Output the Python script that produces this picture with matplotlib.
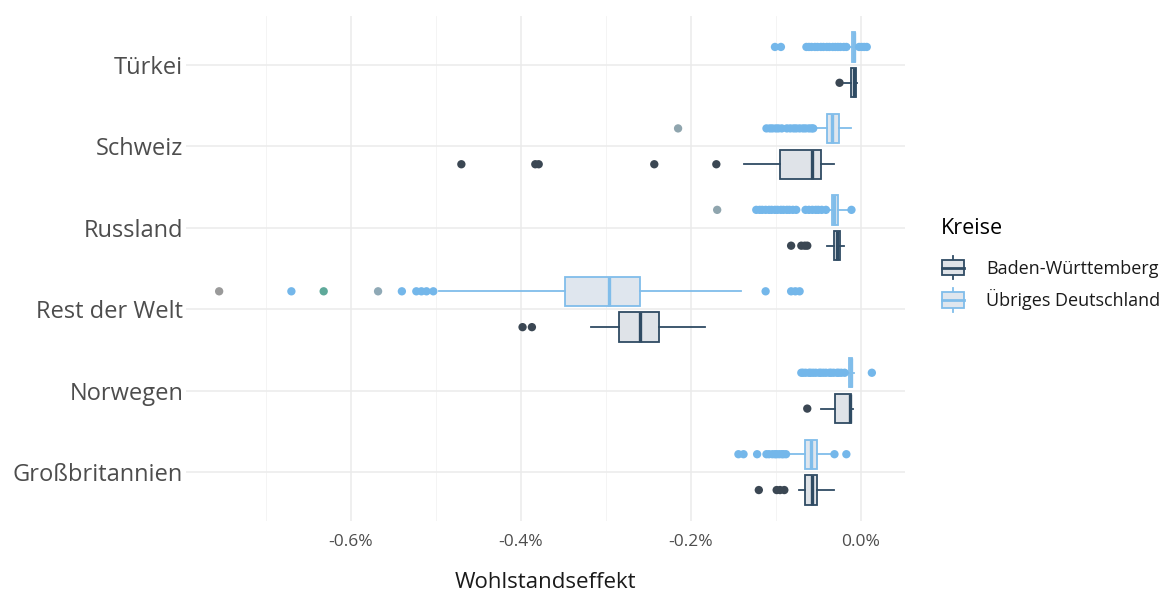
import matplotlib
matplotlib.use("Agg")
import matplotlib.pyplot as plt
from matplotlib.patches import Rectangle
from matplotlib.lines import Line2D
from matplotlib.legend_handler import HandlerBase
from matplotlib.ticker import FuncFormatter, MultipleLocator

plt.rcParams['font.family'] = ['Open Sans', 'DejaVu Sans']

# ---------------- data (values in percent) ----------------
countries = ["Großbritannien", "Norwegen", "Rest der Welt", "Russland", "Schweiz", "Türkei"]
groups = ["Baden-Württemberg", "Übriges Deutschland"]

# Baden-Württemberg
bw_whislo = [-0.073, -0.047, -0.318, -0.040, -0.137, -0.020]
bw_q1     = [-0.066, -0.030, -0.284, -0.032, -0.095, -0.012]
bw_med    = [-0.058, -0.013, -0.260, -0.028, -0.057, -0.008]
bw_q3     = [-0.052, -0.011, -0.237, -0.025, -0.047, -0.006]
bw_whishi = [-0.032, -0.009, -0.183, -0.020, -0.032, -0.005]
bw_out = [
    [-0.120, -0.099, -0.095, -0.090],
    [-0.063],
    [-0.398, -0.387],
    [-0.082, -0.070, -0.066, -0.063],
    [-0.470, -0.383, -0.379, -0.243, -0.170],
    [-0.025],
]

# Übriges Deutschland
ud_whislo = [-0.085, -0.017, -0.496, -0.040, -0.053, -0.014]
ud_q1     = [-0.066, -0.014, -0.348, -0.034, -0.040, -0.010]
ud_med    = [-0.059, -0.012, -0.296, -0.031, -0.034, -0.008]
ud_q3     = [-0.052, -0.010, -0.260, -0.027, -0.026, -0.0065]
ud_whishi = [-0.034, -0.008, -0.141, -0.014, -0.012, -0.004]
ud_out = [
    [-0.144, -0.138, -0.122, -0.111, -0.108, -0.104, -0.101, -0.099, -0.096,
     -0.093, -0.091, -0.088, -0.031, -0.017],
    [-0.070, -0.068, -0.065, -0.061, -0.059, -0.056, -0.053, -0.049, -0.047,
     -0.044, -0.041, -0.037, -0.035, -0.032, -0.028, -0.026, -0.023, -0.019, 0.013],
    [-0.755, -0.670, -0.632, -0.568, -0.540, -0.523, -0.517, -0.511, -0.503,
     -0.112, -0.082, -0.077, -0.072],
    [-0.169, -0.123, -0.119, -0.116, -0.112, -0.108, -0.105, -0.101, -0.098,
     -0.094, -0.091, -0.087, -0.084, -0.080, -0.076, -0.065, -0.061, -0.057,
     -0.053, -0.050, -0.046, -0.041, -0.011],
    [-0.215, -0.111, -0.107, -0.104, -0.100, -0.097, -0.093, -0.087, -0.083,
     -0.079, -0.076, -0.072, -0.068, -0.065, -0.061, -0.058, -0.056],
    [-0.101, -0.094, -0.064, -0.061, -0.058, -0.054, -0.051, -0.047, -0.044,
     -0.040, -0.037, -0.033, -0.030, -0.027, -0.024, -0.020, -0.017,
     -0.002, 0.001, 0.004, 0.007],
]

# a few outliers are drawn in a different tint in the reference
special_tint = {
    ("Übriges Deutschland", "Schweiz", -0.215): "#8fa5ae",
    ("Übriges Deutschland", "Russland", -0.169): "#8fa5ae",
    ("Übriges Deutschland", "Rest der Welt", -0.755): "#9a9a9a",
    ("Übriges Deutschland", "Rest der Welt", -0.632): "#5ea99a",
    ("Übriges Deutschland", "Rest der Welt", -0.568): "#8fa9b6",
}

# ---------------- style ----------------
col_line = {"Baden-Württemberg": "#2f4b63", "Übriges Deutschland": "#80bdea"}
col_fill = {"Baden-Württemberg": "#dfe3e8", "Übriges Deutschland": "#dfe6ee"}
col_out = {"Baden-Württemberg": "#3b4753", "Übriges Deutschland": "#74b7ea"}
offset = {"Baden-Württemberg": -0.22, "Übriges Deutschland": 0.22}
box_w = 0.36

W, H, DPI = 1161, 594, 100
fig = plt.figure(figsize=(W / DPI, H / DPI), dpi=DPI)
ax = fig.add_axes([186 / W, 1 - 521 / H, (905 - 186) / W, (521 - 16) / H])

series = {
    "Baden-Württemberg": (bw_whislo, bw_q1, bw_med, bw_q3, bw_whishi, bw_out),
    "Übriges Deutschland": (ud_whislo, ud_q1, ud_med, ud_q3, ud_whishi, ud_out),
}

base = list(range(1, len(countries) + 1))
for g in groups:
    wlo, q1, med, q3, whi, outs = series[g]
    stats = []
    for i in range(len(countries)):
        stats.append(dict(whislo=wlo[i], q1=q1[i], med=med[i], q3=q3[i],
                          whishi=whi[i], fliers=[]))
    pos = [b + offset[g] for b in base]
    ax.bxp(stats, positions=pos, widths=box_w, orientation='horizontal',
           patch_artist=True, showfliers=False, showcaps=False,
           boxprops=dict(facecolor=col_fill[g], edgecolor=col_line[g], linewidth=1.3),
           medianprops=dict(color=col_line[g], linewidth=2.4),
           whiskerprops=dict(color=col_line[g], linewidth=1.3),
           zorder=3)
    for i, c in enumerate(countries):
        xs = outs[i]
        cols = [special_tint.get((g, c, v), col_out[g]) for v in xs]
        ax.scatter(xs, [pos[i]] * len(xs), s=36, c=cols, edgecolors='none', zorder=4)

# axes styling (ggplot minimal-like)
ax.set_xlim(-0.794, 0.052)
ax.set_ylim(0.4, 6.6)
ax.set_yticks(base)
ax.set_yticklabels(countries)
ax.xaxis.set_major_locator(MultipleLocator(0.2))
ax.xaxis.set_minor_locator(MultipleLocator(0.1))
ax.xaxis.set_major_formatter(FuncFormatter(lambda v, p: f"{v:.1f}%".replace("-0.0", "0.0")))
ax.grid(True, which='major', color='#ebebeb', linewidth=1.1, zorder=0)
ax.grid(True, which='minor', axis='x', color='#f3f3f3', linewidth=0.6, zorder=0)
ax.set_axisbelow(True)
for s in ax.spines.values():
    s.set_visible(False)
ax.tick_params(axis='both', which='both', length=0)
ax.tick_params(axis='y', labelsize=17, labelcolor='#4d4d4d', pad=2)
ax.tick_params(axis='x', labelsize=12.5, labelcolor='#4d4d4d', pad=9)
ax.set_xlabel("Wohlstandseffekt", fontsize=16, color='#1a1a1a', labelpad=16)


# legend with boxplot glyphs
class BoxHandler(HandlerBase):
    def __init__(self, g):
        super().__init__()
        self.g = g

    def create_artists(self, legend, orig_handle, xdescent, ydescent, width, height, fontsize, trans):
        g = self.g
        bx = xdescent + width * 0.05
        bw = width * 0.9
        by = -ydescent + height * 0.17
        bh = height * 0.66
        r = Rectangle((bx, by), bw, bh, facecolor=col_fill[g], edgecolor=col_line[g],
                      linewidth=1.3, transform=trans)
        cx = bx + bw / 2
        m = Line2D([bx, bx + bw], [by + bh / 2, by + bh / 2], color=col_line[g], linewidth=2.0, transform=trans)
        w1 = Line2D([cx, cx], [by + bh, -ydescent + height * 1.0], color=col_line[g], linewidth=1.3, transform=trans)
        w2 = Line2D([cx, cx], [-ydescent, by], color=col_line[g], linewidth=1.3, transform=trans)
        return [w1, w2, r, m]


handles = [Rectangle((0, 0), 1, 1) for _ in groups]
hmap = {h: BoxHandler(g) for h, g in zip(handles, groups)}
leg = fig.legend(handles, groups, handler_map=hmap, title="Kreise",
                 loc='center left', bbox_to_anchor=(934 / W, 1 - 265 / H),
                 frameon=False, fontsize=13, title_fontsize=15.5,
                 handlelength=1.35, handleheight=1.6, handletextpad=1.15,
                 labelspacing=0.5, borderaxespad=0)
leg._legend_box.align = "left"
leg._legend_box.sep = 12
for t in leg.get_texts():
    t.set_color('#1a1a1a')

fig.savefig("out.png", dpi=DPI)
